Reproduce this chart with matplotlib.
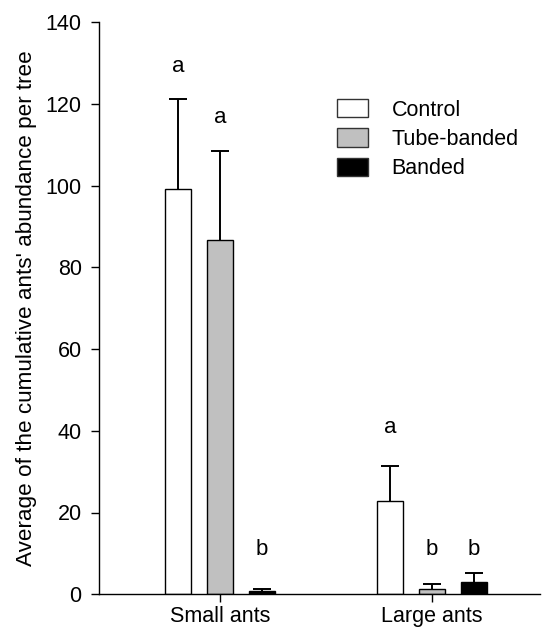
import numpy as np
import matplotlib.pyplot as plt
from matplotlib.patches import Patch

plt.rcParams['font.family'] = ['Liberation Sans', 'DejaVu Sans']

# mean cumulative abundance per tree, with upper standard error
groups = ["Small ants", "Large ants"]
treatments = ["Control", "Tube-banded", "Banded"]
means = {
    "Control": [99.3, 22.8],
    "Tube-banded": [86.8, 1.3],
    "Banded": [0.8, 2.9],
}
errors = {
    "Control": [22.0, 8.6],
    "Tube-banded": [21.8, 1.3],
    "Banded": [0.4, 2.4],
}
letters = {
    "Control": ["a", "a"],
    "Tube-banded": ["a", "b"],
    "Banded": ["b", "b"],
}
# baseline height of the significance letters
letter_y = {
    "Control": [127.8, 39.5],
    "Tube-banded": [115.4, 9.7],
    "Banded": [9.7, 9.7],
}
fills = {"Control": "white", "Tube-banded": "#c0c0c0", "Banded": "black"}

fs = 15.5
fig = plt.figure(figsize=(5.49, 6.28), dpi=100)
ax = fig.add_axes([99 / 549, 1 - 594.2 / 628, 441 / 549, (594.2 - 22.3) / 628])

x = np.arange(len(groups))
width = 0.122
step = 0.198
for i, t in enumerate(treatments):
    pos = x + (i - 1) * step
    ax.bar(pos, means[t], width, color=fills[t], edgecolor="black", linewidth=1.0, zorder=2)
    eb = ax.errorbar(pos, means[t], yerr=[np.zeros(len(groups)), errors[t]], fmt="none",
                     ecolor="black", elinewidth=1.4, capsize=6.5, capthick=1.4, zorder=1)
    eb.lines[1][0].set_visible(False)  # only the upper cap
    for p, lab, ly in zip(pos, letters[t], letter_y[t]):
        ax.text(p, ly, lab, ha="center", va="baseline", fontsize=16)

ax.set_xlim(-0.571, 1.509)
ax.set_ylim(0, 140)
ax.set_yticks(np.arange(0, 141, 20))
ax.set_xticks(x)
ax.set_xticklabels(groups)
ax.tick_params(axis="y", direction="out", length=5.5, width=1, labelsize=fs, pad=7)
ax.tick_params(axis="x", direction="out", length=5.5, width=1, labelsize=fs, pad=3)
ax.set_ylabel("Average of the cumulative ants' abundance per tree", fontsize=16.2, labelpad=6)

for s in ("top", "right"):
    ax.spines[s].set_visible(False)
for s in ("left", "bottom"):
    ax.spines[s].set_linewidth(1.0)

handles = [Patch(facecolor=fills[t], edgecolor="#333333", linewidth=1.0, label=t) for t in treatments]
ax.legend(handles=handles, loc="upper left", bbox_to_anchor=(337 / 549, 1 - 99 / 628),
          bbox_transform=fig.transFigure, frameon=False, borderpad=0, borderaxespad=0,
          fontsize=fs, handlelength=1.44, handleheight=0.93, handletextpad=1.1, labelspacing=0.36)

fig.savefig("out.png", dpi=100)
